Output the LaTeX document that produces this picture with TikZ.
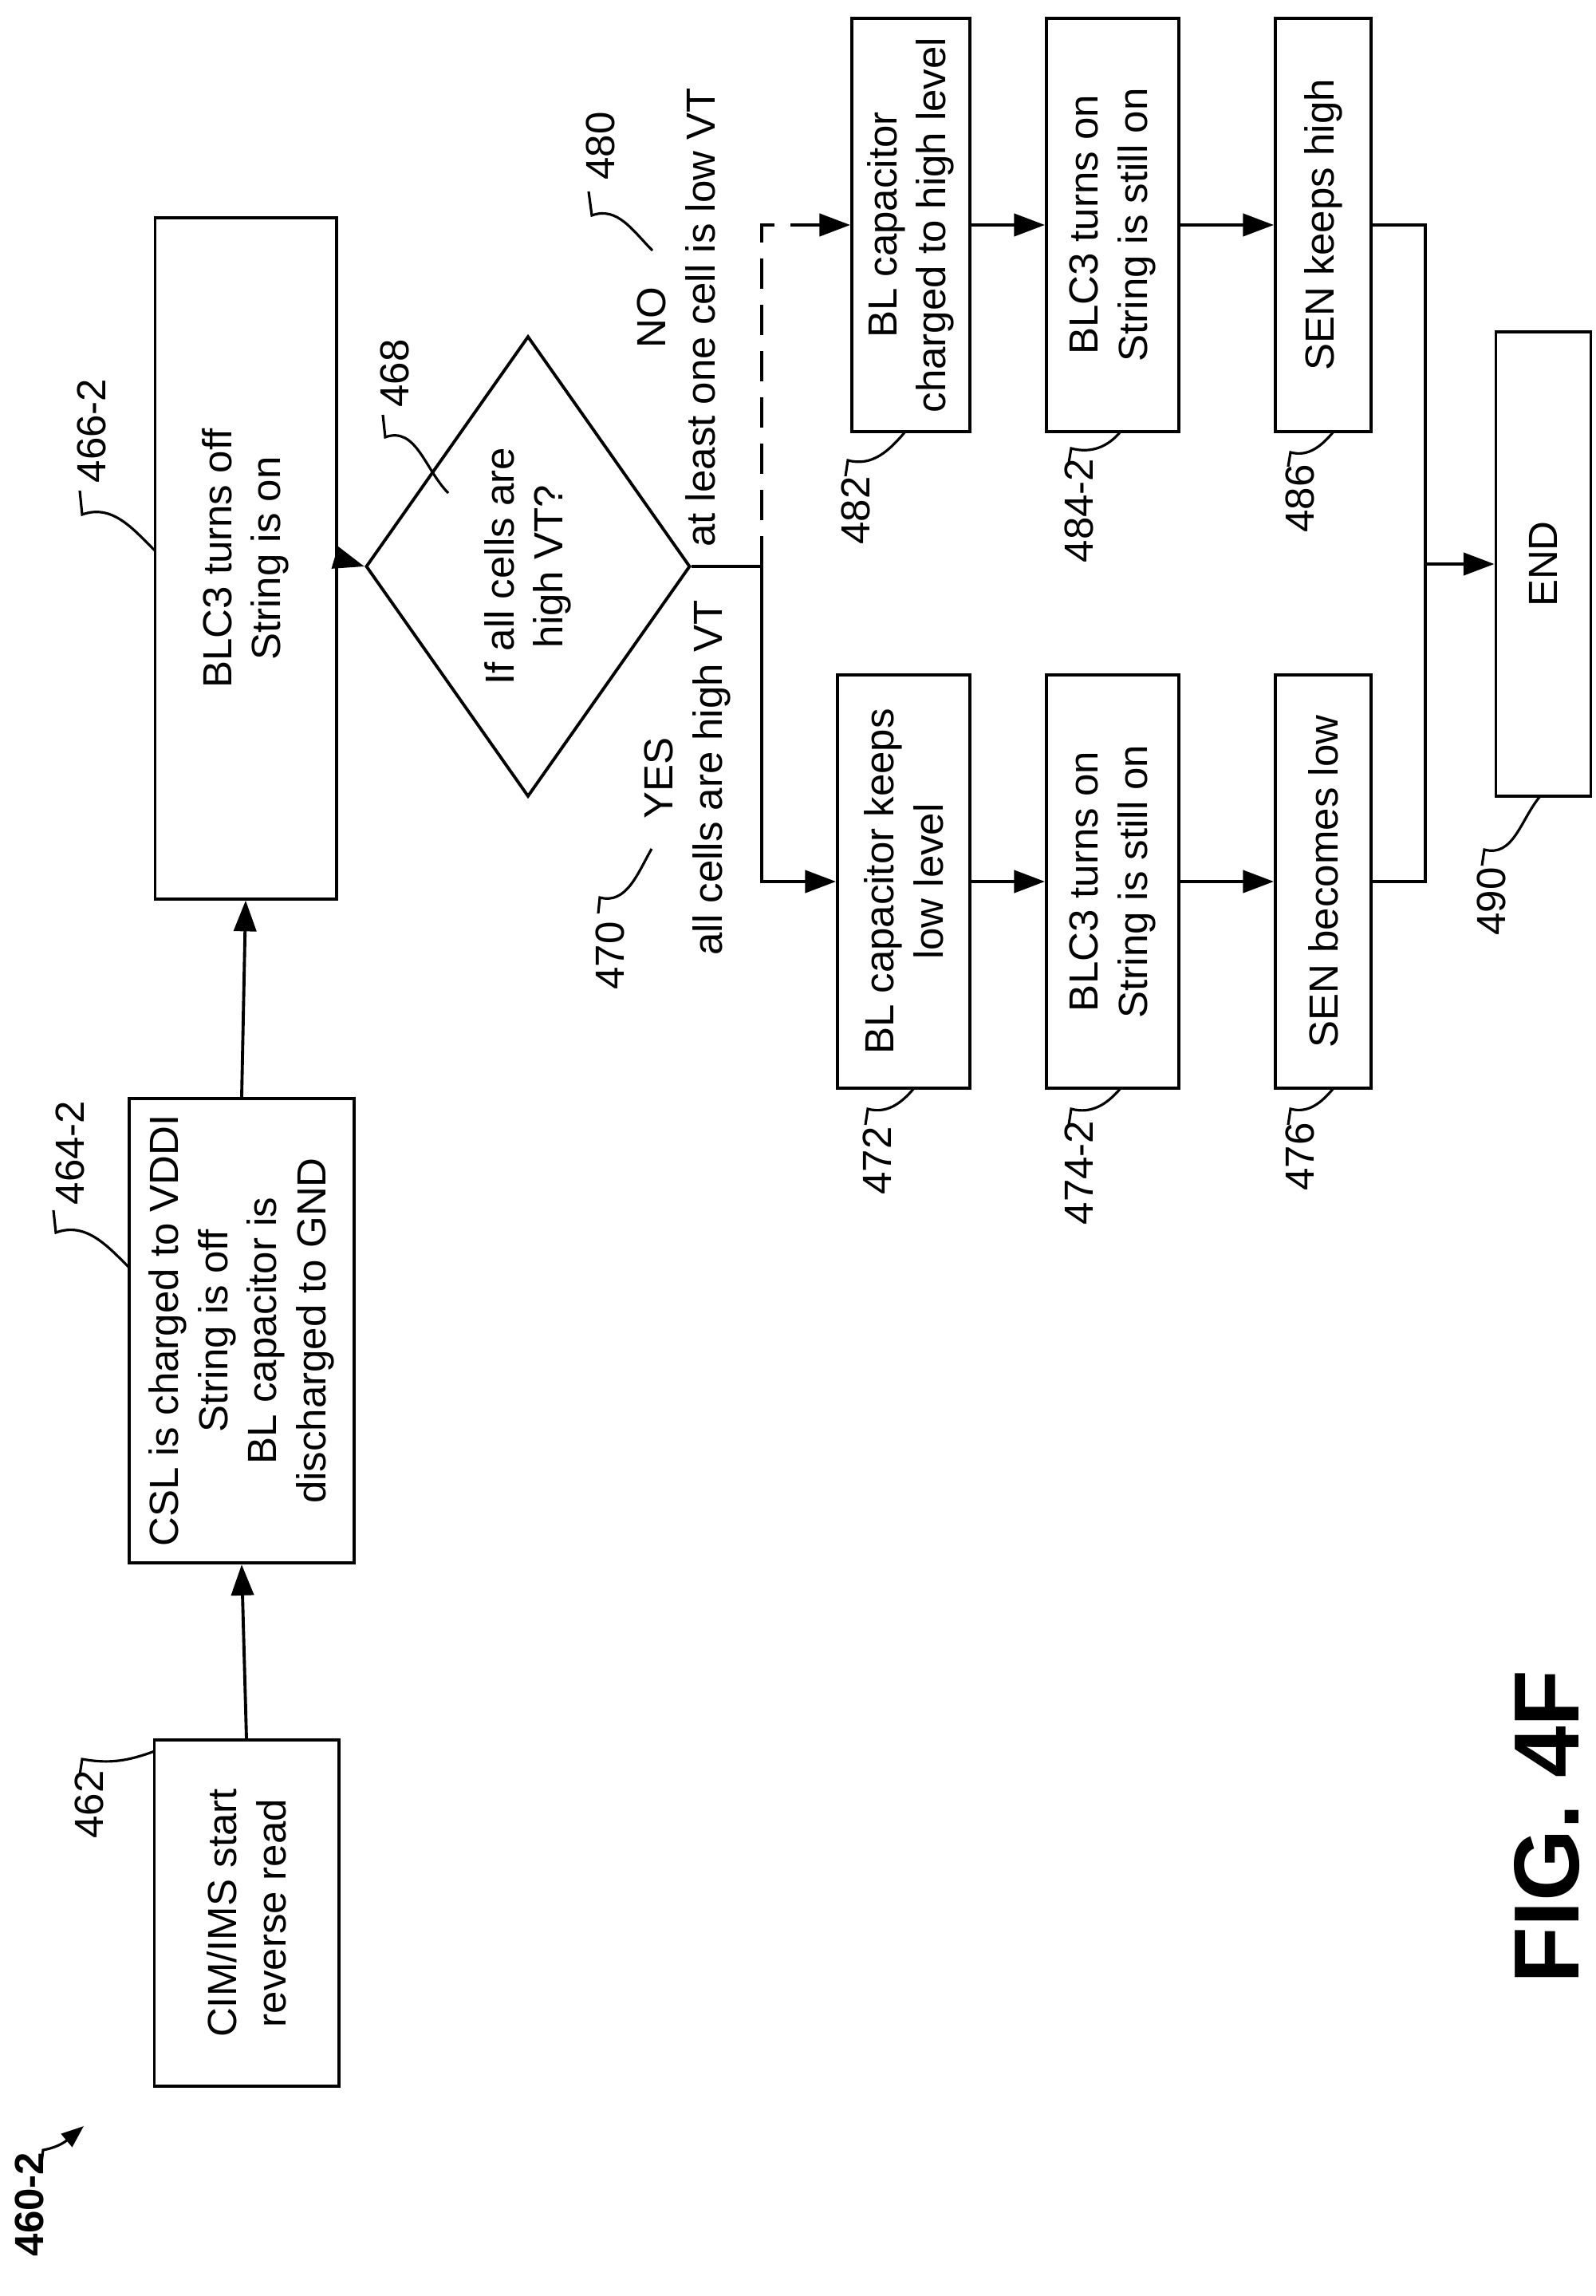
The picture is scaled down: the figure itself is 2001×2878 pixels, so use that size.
\documentclass[tikz,border=0pt]{standalone}
\usepackage{fontspec}
\setmainfont{Liberation Sans}
\usetikzlibrary{arrows.meta,shapes.geometric}
\begin{document}
\begin{tikzpicture}[x=0.01cm,y=-0.01cm,
  every node/.style={font=\fontsize{14.5}{17.5}\selectfont, rotate=90, align=center},
  box/.style={draw, line width=1.1pt, inner sep=2pt},
  lab/.style={inner sep=0pt},
  ar/.style={line width=1.1pt, -{Triangle[length=11pt,width=8pt]}},
  ln/.style={line width=1.1pt},
  sq/.style={line width=0.9pt}]
\useasboundingbox (0,0) rectangle (2001,2878);
% boxes
\node[box, minimum width=4.34cm, minimum height=2.31cm] (b462) at (309,2398) {CIM/IMS start\\reverse read};
\node[box, minimum width=5.82cm, minimum height=2.81cm] (b464) at (303,1668) {CSL is charged to VDDI\\String is off\\BL capacitor is\\discharged to GND};
\node[box, minimum width=8.53cm, minimum height=2.27cm] (b466) at (308,700) {BLC3 turns off\\String is on};
\node[draw, line width=1.1pt, shape=diamond, minimum width=5.77cm, minimum height=2.99cm, inner sep=0pt] (d468) at (662,710) {If all cells are\\high VT?};
\node[box, minimum width=5.18cm, minimum height=1.66cm] (b472) at (1133,1105) {BL capacitor keeps\\low level};
\node[box, minimum width=5.18cm, minimum height=1.66cm] (b474) at (1395,1105) {BLC3 turns on\\String is still on};
\node[box, minimum width=5.18cm, minimum height=1.20cm] (b476) at (1659,1105) {SEN becomes low};
\node[box, minimum width=5.18cm, minimum height=1.48cm] (b482) at (1142,282) {BL capacitor\\charged to high level};
\node[box, minimum width=5.18cm, minimum height=1.66cm] (b484) at (1395,282) {BLC3 turns on\\String is still on};
\node[box, minimum width=5.18cm, minimum height=1.20cm] (b486) at (1659,282) {SEN keeps high};
\node[box, minimum width=5.82cm, minimum height=1.19cm] (bend) at (1935,707) {END};
% branch labels
\node[lab] (tyes) at (862,975) {YES\\all cells are high VT};
\node[lab] (tno) at (848,398) {NO\\at least one cell is low VT};
% connectors
\draw[ar] (b462.east) -- (b464.west);
\draw[ar] (b464.east) -- (b466.west);
\draw[ar] (b466.south) -- (d468.north);
\coordinate (j) at (955,710);
\draw[ln] (d468.south) -- (j);
\draw[ar] (j) |- (b472.north);
\draw[ar, dash pattern=on 0.38cm off 0.2cm] (j) |- (b482.north);
\draw[ar] (b472.south) -- (b474.north);
\draw[ar] (b474.south) -- (b476.north);
\draw[ar] (b482.south) -- (b484.north);
\draw[ar] (b484.south) -- (b486.north);
\coordinate (mt) at (1787,282);
\coordinate (mb) at (1787,1105);
\coordinate (mm) at (1787,707);
\draw[ln] (b486.south) -- (mt) -- (mb) -- (b476.south);
\draw[ar] (mm) -- (bend.north);
% reference labels
\node[lab, font=\fontsize{14.5}{17}\selectfont\bfseries] (l460) at (37,2763) {460-2};
\draw[sq, -{Triangle[length=8pt,width=6pt]}] (52,2712) -- (54,2695) to[out=10,in=-140] (105,2665);
\node[lab] (l462) at (112,2262) {462};
\draw[sq] (100,2225) -- (103,2205) to[out=-10,in=-160] (194,2195);
\node[lab] (l464) at (88,1445) {464-2};
\draw[sq] (67,1517) -- (70,1545) to[out=20,in=135] (163,1590);
\node[lab] (l466) at (115,540) {466-2};
\draw[sq] (100,615) -- (103,645) to[out=20,in=135] (194,690);
\node[lab] (l468) at (495,468) {468};
\draw[sq] (480,520) -- (483,548) to[out=20,in=135] (562,618);
\node[lab] (l470) at (765,1198) {470};
\draw[sq] (750,1145) -- (752,1125) to[out=-15,in=-120] (817,1064);
\node[lab] (l480) at (753,183) {480};
\draw[sq] (738,240) -- (742,270) to[out=20,in=135] (818,314);
\node[lab] (l482) at (1073,640) {482};
\draw[sq] (1060,597) -- (1063,577) to[out=-15,in=-130] (1135,541);
\node[lab] (l472) at (1100,1455) {472};
\draw[sq] (1085,1410) -- (1088,1390) to[out=-15,in=-130] (1146,1364);
\node[lab] (l474) at (1353,1470) {474-2};
\draw[sq] (1340,1410) -- (1343,1390) to[out=-15,in=-130] (1405,1364);
\node[lab] (l476) at (1630,1450) {476};
\draw[sq] (1615,1410) -- (1618,1390) to[out=-15,in=-130] (1672,1364);
\node[lab] (l484) at (1353,640) {484-2};
\draw[sq] (1340,580) -- (1343,562) to[out=-15,in=-130] (1405,541);
\node[lab] (l486) at (1630,625) {486};
\draw[sq] (1615,585) -- (1618,567) to[out=-15,in=-130] (1672,541);
\node[lab] (l490) at (1870,1130) {490};
\draw[sq] (1858,1085) -- (1861,1065) to[out=-15,in=-130] (1931,998);
\node[lab, font=\fontsize{33}{36}\selectfont\bfseries] (fig) at (1940,2290) {FIG. 4F};
\end{tikzpicture}
\end{document}
